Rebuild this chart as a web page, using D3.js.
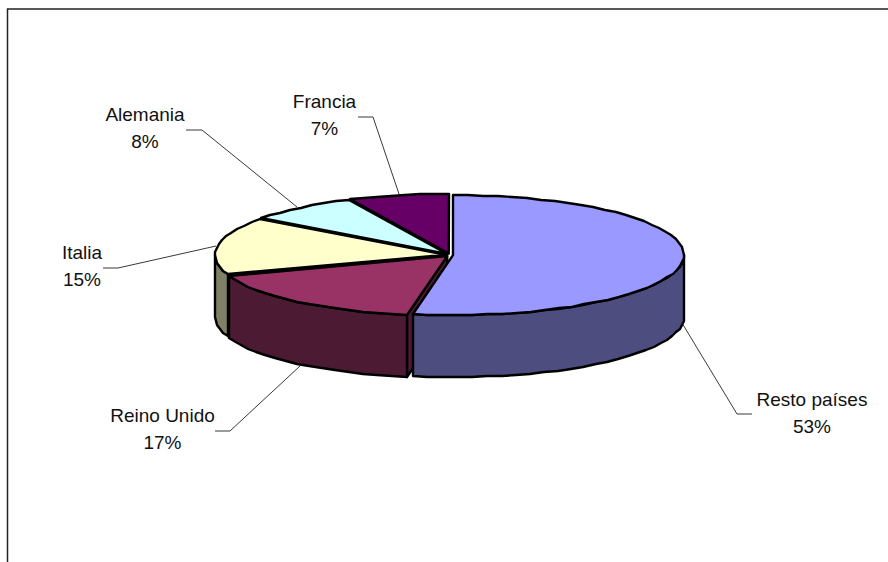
<!DOCTYPE html>
<html><head><meta charset="utf-8">
<script src="https://cdn.jsdelivr.net/npm/d3@7"></script>
<style>html,body{margin:0;padding:0;background:#fff}svg{display:block}text{font-family:"Liberation Sans",Arial,sans-serif;font-size:19px;fill:#111;text-anchor:middle}</style>
</head><body><svg id="c" width="888" height="562"></svg>
<script>
const categories = ["Resto países","Reino Unido","Italia","Alemania","Francia"];
const values = [52.8,16.9,15.4,7.9,7.0];
const percentLabels = ["53%","17%","15%","8%","7%"];
const topColors = ["#9999FF","#993366","#FFFFCC","#CCFFFF","#660066"];
const sideColors = ["#4D4D80","#4D1A33","#808066","#668080","#330033"];
const labelCenters = [[812,406],[162.5,422],[82,259],[145,121],[324.5,108]];
const leaders = [
  [[682,323],[737,414],[752,414]],
  [[300,366],[230,431],[215,431]],
  [[216,246],[118,268],[103,268]],
  [[297,207],[202,130],[186,130]],
  [[399,194],[373,117],[358,117]]
];
const cx=449.5, cy=255, rx=231, ry=60, depth=62, explode=3.5, tilt=0.4;
const svg=d3.select("#c");
// frame
svg.append("path").attr("d","M7.5,562V9H888").attr("fill","none").attr("stroke","#222").attr("stroke-width",1.5);

const arcs=d3.pie().sort(null).value(d=>d)(values);
const X=d3.scaleLinear().domain([-1,1]).range([cx-rx,cx+rx]);
const Y=d3.scaleLinear().domain([-1,1]).range([cy-ry,cy+ry]);
const line=d3.line();
function rim(a0,a1,o,dz){
  const n=Math.max(1,Math.round((a1-a0)/(Math.PI/48))),p=[];
  for(let i=0;i<=n;i++){const a=a0+(a1-a0)*i/n;
    p.push([Math.round(X(Math.sin(a))+o[0]),Math.round(Y(-Math.cos(a))+o[1]+dz)]);}
  return p;
}
const offs=arcs.map(a=>{const m=(a.startAngle+a.endAngle)/2;return [explode*Math.sin(m),-explode*tilt*Math.cos(m)];});
const apex=o=>[cx+o[0],cy+o[1]];
const sty=s=>s.attr("stroke","#000").attr("stroke-width",2.4).attr("stroke-linejoin","round");
// sides, painted back-to-front: Italia, Reino Unido, Resto
[2,1,0].forEach(i=>{
  const a=arcs[i],o=offs[i],A=apex(o);
  const s=Math.max(a.startAngle,Math.PI/2),e=Math.min(a.endAngle,Math.PI*1.5);
  if(i>0){
    const r=rim(a.startAngle,a.startAngle,o,0)[0];
    sty(svg.append("path").attr("d",line([A,r,[r[0],r[1]+depth],[A[0],A[1]+depth]])+"Z").attr("fill",sideColors[i]));
  }
  const top=rim(s,e,o,0),bot=rim(s,e,o,depth).reverse();
  sty(svg.append("path").attr("d",line(top.concat(bot))+"Z").attr("fill",sideColors[i]));
});
// tops
arcs.forEach((a,i)=>{
  const o=offs[i];
  const pts=[apex(o)].concat(rim(a.startAngle,a.endAngle,o,0));
  sty(svg.append("path").attr("d",line(pts)+"Z").attr("fill",topColors[i]));
});
// leaders
leaders.forEach(l=>svg.append("path").attr("d",line(l)).attr("fill","none").attr("stroke","#222").attr("stroke-width",0.9));
// labels
categories.forEach((c,i)=>{
  const [x,y]=labelCenters[i];
  svg.append("text").attr("x",x).attr("y",y).text(c);
  svg.append("text").attr("x",x).attr("y",y+27).text(percentLabels[i]);
});
</script></body></html>
